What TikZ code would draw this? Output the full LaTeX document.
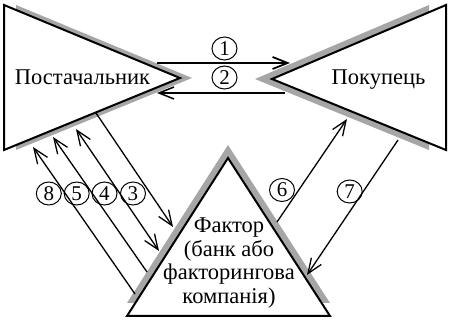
\documentclass[tikz,border=0pt]{standalone}
\usepackage{fontspec}
\setmainfont{Liberation Serif}
\usetikzlibrary{arrows.meta,shapes.geometric}
\definecolor{shade}{RGB}{166,166,166}
\begin{document}
\begin{tikzpicture}[x=1pt,y=-1pt,
  shadowfill/.style={fill=shade},
  party/.style={draw=black,fill=white,line width=2pt,line join=miter},
  conn/.style={line width=1.3pt,-{Straight Barb[length=15pt,width=12pt]}},
  biconn/.style={line width=1.3pt,{Straight Barb[length=15pt,width=12pt]}-{Straight Barb[length=15pt,width=12pt]}},
  num/.style={ellipse,draw,fill=white,line width=1pt,minimum width=25pt,minimum height=23pt,inner sep=0pt,font=\fontsize{21}{21}\selectfont},
  lbl/.style={font=\fontsize{22.5}{23.5}\selectfont}]
\useasboundingbox (0,0) rectangle (451,321);
% shadows
\fill[shadowfill] (16,5) -- (192,78) -- (16,150) -- cycle;
\fill[shadowfill] (429,5) -- (255,79) -- (429,150) -- cycle;
\fill[shadowfill] (228,145) -- (330,303) -- (127,303) -- cycle;
% triangles
\draw[party] (4,5) -- (180,78) -- (4,150) -- cycle;
\draw[party] (446,5) -- (272,79) -- (446,150) -- cycle;
\draw[party] (228,158) -- (330,316) -- (127,316) -- cycle;
% labels
\node[lbl,anchor=base] (sup) at (82.5,85) {Постачальник};
\node[lbl,anchor=base] (buy) at (378.5,85) {Покупець};
\node[lbl,align=center,anchor=center,inner sep=0pt] (fac) at (229,263) {Фактор\\(банк або\\факторингова\\компанія)};
% connector ends
\coordinate (a1s) at (157,63);  \coordinate (a1e) at (290,63);
\coordinate (a2s) at (285,93);  \coordinate (a2e) at (157,93);
\coordinate (a3s) at (96,113);  \coordinate (a3e) at (173,227);
\coordinate (a4s) at (76,129);  \coordinate (a4e) at (159,251);
\coordinate (a5s) at (147,272); \coordinate (a5e) at (53,137);
\coordinate (a8s) at (135,294); \coordinate (a8e) at (33,147);
\coordinate (a6s) at (277,222); \coordinate (a6e) at (347,119);
\coordinate (a7s) at (398,140); \coordinate (a7e) at (307,275);
% number circles
\node[num] (n1) at (224.5,48.5) {1};
\node[num] (n2) at (224.5,77.5) {2};
\node[num] (n8) at (48.8,193.5) {8};
\node[num] (n5) at (76.7,193.5) {5};
\node[num] (n4) at (104.5,193.5) {4};
\node[num] (n3) at (133,193.5) {3};
\node[num] (n6) at (282,190) {6};
\node[num] (n7) at (349.7,191.5) {7};
% connectors
\draw[conn,line width=1.8pt] (a1s) -- (a1e);
\draw[conn,line width=1.5pt] (a2s) -- (a2e);
\draw[conn] (a3s) -- (a3e);
\draw[biconn] (a4s) -- (a4e);
\draw[conn] (a5s) -- (a5e);
\draw[conn] (a8s) -- (a8e);
\draw[conn] (a6s) -- (a6e);
\draw[conn] (a7s) -- (a7e);
\end{tikzpicture}
\end{document}
